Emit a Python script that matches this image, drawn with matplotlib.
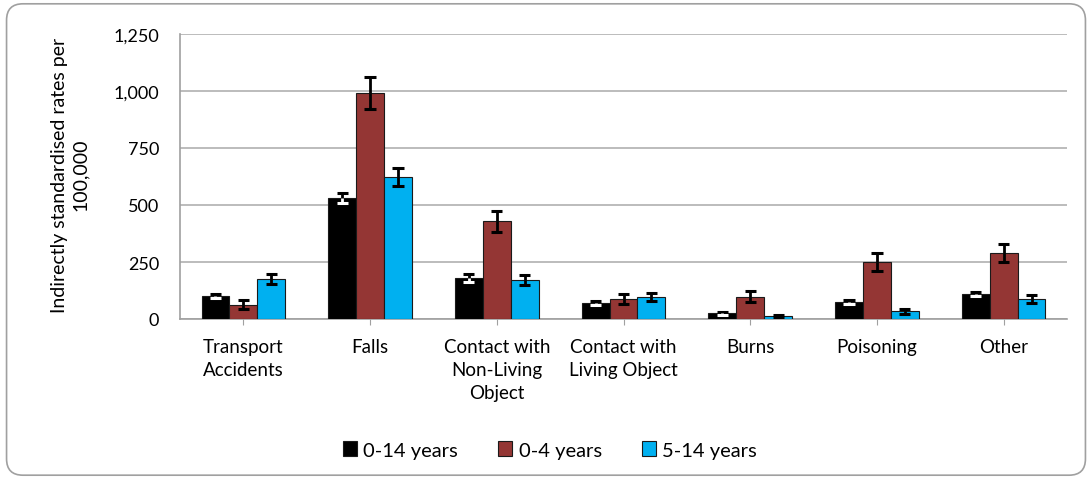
import matplotlib
matplotlib.use('Agg')
from matplotlib import pyplot as plt
from matplotlib.patches import FancyBboxPatch
import numpy as np

plt.rcParams['font.family'] = ['Lato', 'DejaVu Sans']

categories = ['Transport\nAccidents', 'Falls', 'Contact with\nNon-Living\nObject',
              'Contact with\nLiving Object', 'Burns', 'Poisoning', 'Other']

# rates per 100,000 and error (half-width of the interval)
age_0_14 = [101, 530, 180, 69, 25, 75, 110]
err_0_14 = [9, 22, 17, 8, 6, 9, 10]

age_0_4 = [63, 991, 428, 88, 98, 250, 291]
err_0_4 = [20, 72, 46, 22, 23, 38, 40]

age_5_14 = [175, 622, 170, 98, 12, 34, 88]
err_5_14 = [22, 40, 22, 17, 5, 10, 16]

series = [
    ('0-14 years', age_0_14, err_0_14, '#000000'),
    ('0-4 years', age_0_4, err_0_4, '#943634'),
    ('5-14 years', age_5_14, err_5_14, '#00B0F0'),
]

fig = plt.figure(figsize=(10.92, 4.81), dpi=100)
ax = fig.add_axes([180/1092, 1 - 320/481, (1067-180)/1092, (320-35)/481])

# rounded frame around the whole chart
frame = FancyBboxPatch((0.006, 0.01), 0.988, 0.98, boxstyle='round,pad=0,rounding_size=0.015',
                       transform=fig.transFigure, facecolor='none', edgecolor='#a0a0a0',
                       linewidth=1.2, mutation_aspect=1092/481)
fig.patches.append(frame)

x = np.arange(len(categories))
w = 0.22
for i, (name, vals, errs, col) in enumerate(series):
    xs = x + (i - 1) * w
    ax.bar(xs, vals, w, color=col, edgecolor='#1a1a1a', linewidth=0.8, label=name, zorder=3)
    vals = np.array(vals)
    errs = np.array(errs)
    cw = w * 0.2
    # upper part of the error bar is always black
    ax.vlines(xs, vals, vals + errs, color='black', linewidth=2, zorder=4)
    ax.hlines(vals + errs, xs - cw, xs + cw, color='black', linewidth=2.2, zorder=4)
    # lower part is white where it sits inside a black bar
    low_col = 'white' if col == '#000000' else 'black'
    ax.vlines(xs, vals - errs, vals, color=low_col, linewidth=2, zorder=4)
    ax.hlines(vals - errs, xs - cw, xs + cw, color=low_col, linewidth=2.2, zorder=4)

ax.set_xlim(-0.5, len(categories) - 0.5)
ax.set_ylim(0, 1250)
ax.set_yticks([0, 250, 500, 750, 1000, 1250])
ax.set_yticklabels(['0', '250', '500', '750', '1,000', '1,250'], fontsize=13)
ax.set_xticks(x)
ax.set_xticklabels(categories, fontsize=13.5, linespacing=1.4)
ax.tick_params(axis='x', length=4, color='#a0a0a0', pad=10)
ax.tick_params(axis='y', length=0, pad=15)

ax.grid(axis='y', color='#b0b0b0', linewidth=1.2, zorder=0)
ax.set_axisbelow(True)
for s in ['top', 'right']:
    ax.spines[s].set_visible(False)
ax.spines['left'].set_color('#a0a0a0')
ax.spines['bottom'].set_color('#a0a0a0')
ax.spines['left'].set_linewidth(1.2)
ax.spines['bottom'].set_linewidth(1.2)

fig.text(70/1092, 1 - 175/481, 'Indirectly standardised rates per\n100,000', rotation=90,
         ha='center', va='center', fontsize=14, linespacing=1.3)

leg = fig.legend(loc='center', bbox_to_anchor=(550/1092, 1 - 451/481), ncol=3, frameon=False,
                 fontsize=14.5, handlelength=0.7, handleheight=0.7, handletextpad=0.3,
                 columnspacing=2.0)

fig.savefig('out.png', dpi=100)
